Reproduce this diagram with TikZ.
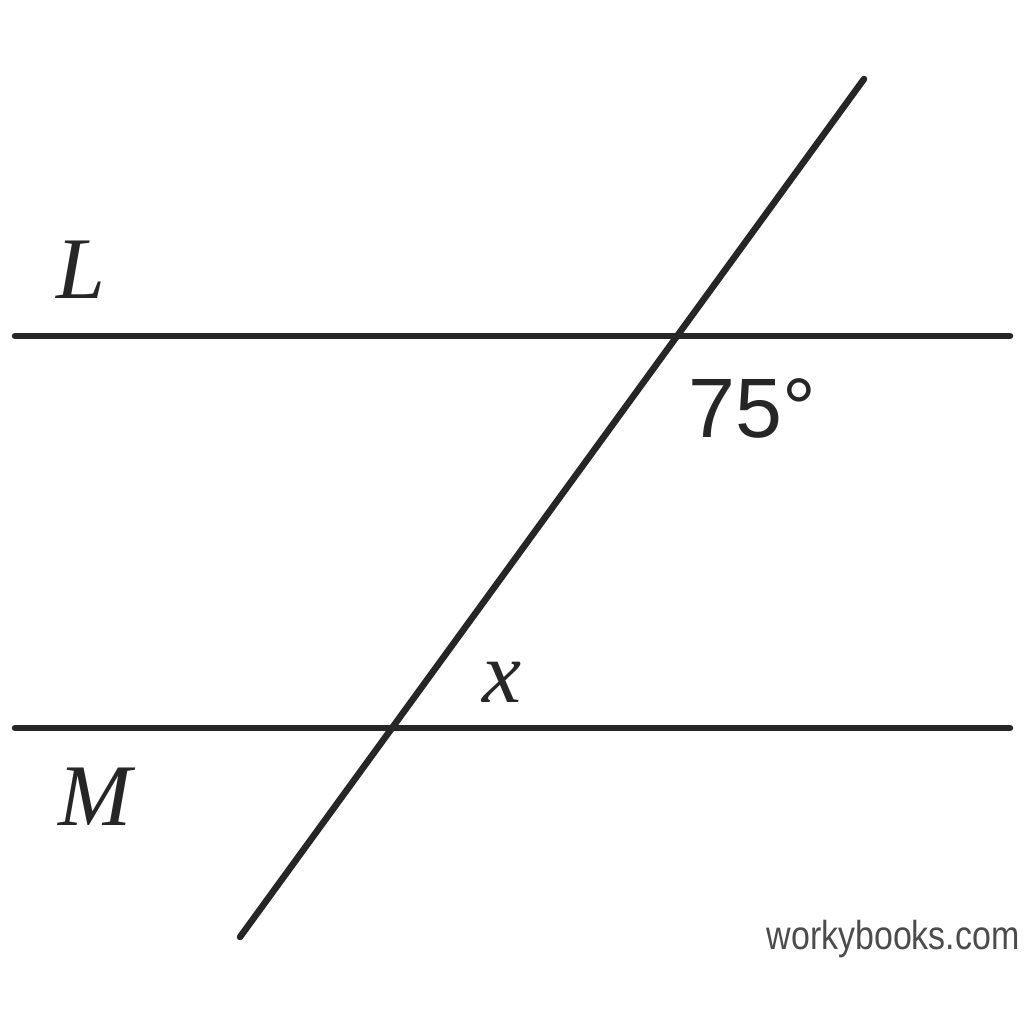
\documentclass[tikz,border=0pt]{standalone}
\usepackage{fontspec}
\newfontfamily\lsans{Liberation Sans}
\newfontfamily\lserif{Liberation Serif}
\begin{document}
\begin{tikzpicture}[x=0.1mm,y=-0.1mm,
  ln/.style={line width=1.85pt,draw=black!85,line cap=round},
  lbl/.style={inner sep=0pt,text=black!85},
  var/.style={lbl,font=\lserif\itshape\fontsize{25}{30}\selectfont}]
\useasboundingbox[fill=white] (0,0) rectangle (1024,1024);
\coordinate (L1) at (15,336);
\coordinate (L2) at (1010,336);
\coordinate (M1) at (15,728);
\coordinate (M2) at (1010,728);
\coordinate (T1) at (240,937);
\coordinate (T2) at (864,79);
\draw[ln] (L1) -- (L2);
\draw[ln] (M1) -- (M2);
\draw[ln] (T1) -- (T2);
\node[var] (lL) at (81,270) {L};
\node[var] (lM) at (95,797) {M};
\node[var] (lx) at (502,682) {x};
\node[lbl,anchor=base west] (a75) at (688,437) {\lsans\fontsize{24}{28}\selectfont 75°};
\node[lbl,anchor=base west,text=black!70] (wb) at (766,949) {\scalebox{0.84}[1]{\lsans\fontsize{11.5}{14}\selectfont workybooks.com}};
\end{tikzpicture}
\end{document}
